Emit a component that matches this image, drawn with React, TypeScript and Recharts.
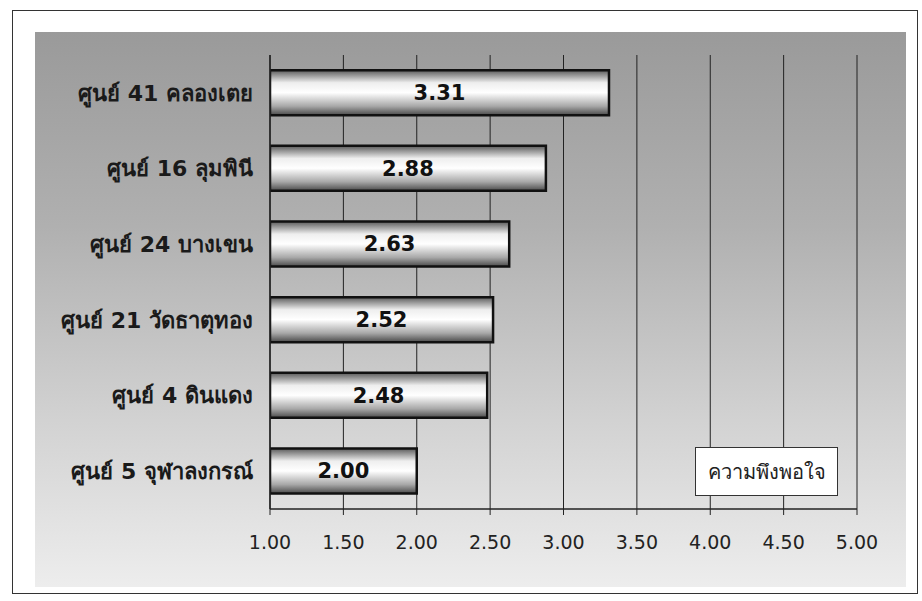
import React from 'react';
import { BarChart, Bar, XAxis, YAxis, CartesianGrid, LabelList, Legend } from 'recharts';

const centers = [
  'ศูนย์ 41 คลองเตย',
  'ศูนย์ 16 ลุมพินี',
  'ศูนย์ 24 บางเขน',
  'ศูนย์ 21 วัดธาตุทอง',
  'ศูนย์ 4 ดินแดง',
  'ศูนย์ 5 จุฬาลงกรณ์',
];
const satisfaction = [3.31, 2.88, 2.63, 2.52, 2.48, 2.0];
const xTicks = [1, 1.5, 2, 2.5, 3, 3.5, 4, 4.5, 5];
const seriesName = 'ความพึงพอใจ';

const data = centers.map((name, i) => ({ name, value: satisfaction[i] }));

const font = "Tahoma, 'DejaVu Sans', 'Noto Sans', sans-serif";

const LegendBox = (props: any) => {
  const item = props.payload && props.payload[0];
  return (
    <div
      style={{
        width: 143,
        height: 49,
        boxSizing: 'border-box',
        background: '#fff',
        border: '1.5px solid #333',
        display: 'flex',
        alignItems: 'center',
        justifyContent: 'center',
        fontFamily: font,
        fontSize: 20,
        color: '#222',
      }}
    >
      {item ? item.value : seriesName}
    </div>
  );
};

export default function App() {
  return (
    <div
      style={{
        position: 'absolute',
        left: 0,
        top: 0,
        width: 922,
        height: 601,
        background: '#fff',
        fontFamily: font,
      }}
    >
      <div
        style={{
          position: 'absolute',
          left: 12,
          top: 10,
          width: 906,
          height: 584,
          border: '1.5px solid #333',
          boxSizing: 'border-box',
        }}
      />
      <div
        style={{
          position: 'absolute',
          left: 35,
          top: 32,
          width: 871,
          height: 555,
          background: 'linear-gradient(180deg, #9a9a9a 0%, #b0b0b0 35%, #d2d2d2 70%, #ededed 100%)',
        }}
      >
        <BarChart
          width={871}
          height={555}
          data={data}
          layout="vertical"
          margin={{ top: 23, right: 49, left: 0, bottom: 0 }}
          barCategoryGap="20%"
        >
          <defs>
            <linearGradient id="barShade" x1="0" y1="0" x2="0" y2="1">
              <stop offset="0%" stopColor="#5a5a5a" />
              <stop offset="28%" stopColor="#eeeeee" />
              <stop offset="50%" stopColor="#ffffff" />
              <stop offset="80%" stopColor="#a8a8a8" />
              <stop offset="100%" stopColor="#4a4a4a" />
            </linearGradient>
          </defs>
          <CartesianGrid horizontal={false} stroke="#222" strokeWidth={1} />
          <XAxis
            type="number"
            domain={[1, 5]}
            ticks={xTicks}
            allowDataOverflow
            tickFormatter={(v: number) => v.toFixed(2)}
            axisLine={{ stroke: '#222', strokeWidth: 1.5 }}
            tickLine={{ stroke: '#222' }}
            tickSize={6}
            tickMargin={21}
            height={78}
            tick={{ fill: '#222', fontSize: 19, fontFamily: font }}
          />
          <XAxis
            xAxisId="top"
            orientation="top"
            type="number"
            domain={[1, 5]}
            tick={false}
            tickLine={false}
            height={0}
            axisLine={{ stroke: '#222', strokeWidth: 1.5 }}
          />
          <YAxis
            type="category"
            dataKey="name"
            width={235}
            axisLine={{ stroke: '#222', strokeWidth: 1.5 }}
            tickLine={false}
            tickMargin={11}
            interval={0}
            tick={{ fill: '#1a1a1a', fontSize: 22, fontWeight: 'bold', fontFamily: font }}
          />
          <Legend
            layout="vertical"
            verticalAlign="middle"
            align="center"
            content={<LegendBox />}
            wrapperStyle={{ position: 'absolute', left: 660, top: 415, width: 143 }}
          />
          <Bar
            dataKey="value"
            name={seriesName}
            fill="url(#barShade)"
            stroke="#111"
            strokeWidth={2.5}
            isAnimationActive={false}
          >
            <LabelList
              dataKey="value"
              position="center"
              formatter={(v: any) => Number(v).toFixed(2)}
              style={{ fill: '#111', fontSize: 21, fontWeight: 'bold', fontFamily: font }}
            />
          </Bar>
        </BarChart>
      </div>
    </div>
  );
}
